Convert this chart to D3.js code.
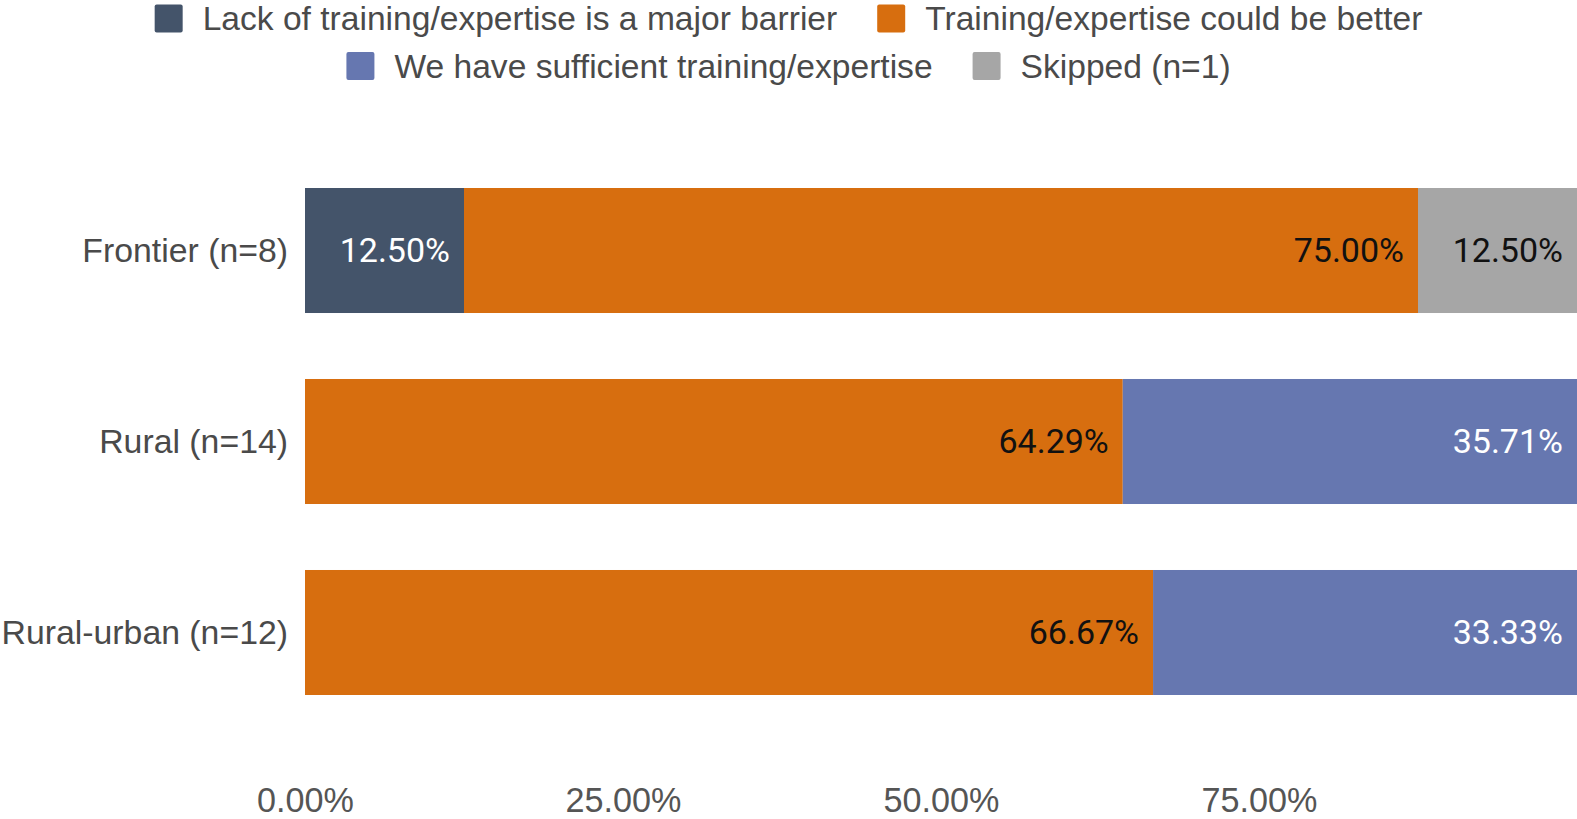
<!DOCTYPE html>
<html>
<head>
<meta charset="utf-8">
<script src="https://cdn.jsdelivr.net/npm/d3@7"></script>
<style>
  html, body { margin: 0; padding: 0; background: #fff; overflow: hidden; }
  svg { display: block; }
</style>
</head>
<body>
<svg id="chart" width="1577" height="819"></svg>
<script>
// Survey responses by locale type (percent of respondents)
const categories = ["Frontier (n=8)", "Rural (n=14)", "Rural-urban (n=12)"];
const seriesNames = [
  "Lack of training/expertise is a major barrier",
  "Training/expertise could be better",
  "We have sufficient training/expertise",
  "Skipped (n=1)"
];
const lackValues       = [12.50, 0, 0];
const couldBeBetter    = [75.00, 64.29, 66.67];
const sufficientValues = [0, 35.71, 33.33];
const skippedValues    = [12.50, 0, 0];
const tickValues = [0, 25, 50, 75];
const tickLabels = ["0.00%", "25.00%", "50.00%", "75.00%"];
const legendRows = [[0, 1], [2, 3]];

const colors = ["#44546a", "#d76e0f", "#6677b0", "#a6a6a6"];
const labelColors = ["#ffffff", "#111111", "#ffffff", "#111111"];

const rows = categories.map((c, i) => ({
  category: c,
  s0: lackValues[i],
  s1: couldBeBetter[i],
  s2: sufficientValues[i],
  s3: skippedValues[i]
}));
const keys = ["s0", "s1", "s2", "s3"];
const stacked = d3.stack().keys(keys)(rows);

const svg = d3.select("#chart");
const W = 1577;

const x = d3.scaleLinear().domain([0, 100]).range([305, 1577]);
const y = d3.scaleBand().domain(categories).range([155, 728])
  .paddingInner(0.3455).paddingOuter(0.1728);

const labelFont = "Roboto, 'Liberation Sans', Arial, sans-serif";
const plainFont = "'Liberation Sans', Arial, sans-serif";

// stacked bars
const layers = svg.append("g").selectAll("g")
  .data(stacked).join("g")
  .attr("fill", (d, i) => colors[i]);

layers.selectAll("rect")
  .data(d => d.filter(p => p[1] - p[0] > 0))
  .join("rect")
  .attr("x", d => x(d[0]))
  .attr("y", d => y(d.data.category))
  .attr("width", d => x(d[1]) - x(d[0]))
  .attr("height", y.bandwidth());

// value labels, right-aligned inside each segment
stacked.forEach((layer, i) => {
  svg.append("g").selectAll("text")
    .data(layer.filter(p => p[1] - p[0] > 0))
    .join("text")
    .attr("x", d => x(d[1]) - 14)
    .attr("y", d => y(d.data.category) + y.bandwidth() / 2)
    .attr("dy", "0.35em")
    .attr("text-anchor", "end")
    .attr("font-family", labelFont)
    .attr("font-size", 34)
    .attr("fill", labelColors[i])
    .text(d => (d[1] - d[0]).toFixed(2) + "%");
});

// category labels
svg.append("g").selectAll("text")
  .data(categories).join("text")
  .attr("x", 288)
  .attr("y", d => y(d) + y.bandwidth() / 2)
  .attr("dy", "0.35em")
  .attr("text-anchor", "end")
  .attr("font-family", plainFont)
  .attr("font-size", 33.8)
  .attr("fill", "#4a4a4a")
  .text(d => d);

// x axis (labels only)
const xAxis = d3.axisBottom(x)
  .tickValues(tickValues)
  .tickFormat((d, i) => tickLabels[i])
  .tickSize(0);
const axisG = svg.append("g").attr("transform", "translate(0,800)").call(xAxis);
axisG.select(".domain").remove();
axisG.selectAll("text")
  .attr("y", 0)
  .attr("dy", "0.35em")
  .attr("font-family", plainFont)
  .attr("font-size", 34.2)
  .attr("fill", "#555");

// legend, two centered rows
const legendY = [18.5, 66];
legendRows.forEach((row, r) => {
  const g = svg.append("g");
  let cx = 0;
  row.forEach((si, k) => {
    const item = g.append("g").attr("transform", `translate(${cx},0)`);
    item.append("rect")
      .attr("x", 0).attr("y", -14)
      .attr("width", 28).attr("height", 28)
      .attr("rx", 2)
      .attr("fill", colors[si]);
    const t = item.append("text")
      .attr("x", 48).attr("y", 0)
      .attr("dy", "0.35em")
      .attr("font-family", plainFont)
      .attr("font-size", 33.6)
      .attr("fill", "#4a4a4a")
      .text(seriesNames[si]);
    const w = t.node().getComputedTextLength();
    cx += 48 + w + (k < row.length - 1 ? 40 : 0);
  });
  g.attr("transform", `translate(${(W - cx) / 2},${legendY[r]})`);
});
</script>
</body>
</html>
